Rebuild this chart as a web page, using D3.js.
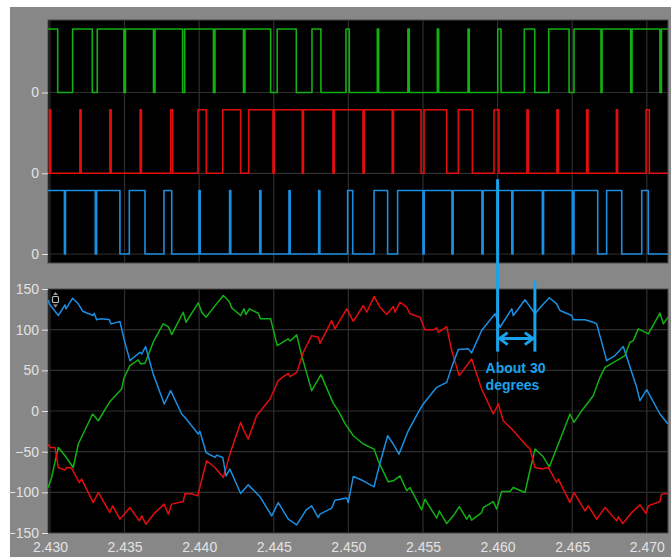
<!DOCTYPE html>
<html><head><meta charset="utf-8">
<script src="https://cdn.jsdelivr.net/npm/d3@7"></script>
<style>
html,body{margin:0;padding:0;background:#fff;}
svg{display:block;}
</style></head><body>
<svg id="c" width="671" height="557"></svg>
<script>
// time axis ticks (s) and current axis ticks (A)
const timeTicks = [2.430, 2.435, 2.440, 2.445, 2.450, 2.455, 2.460, 2.465, 2.470];
const currentTicks = [150, 100, 50, 0, -50, -100, -150];
const laneTickLabels = ["0", "0", "0"];
const timeDomain = [2.42987, 2.47142];

// gate signals: intervals [on, off] where the switch is high
const gateA = [[2.4298,2.43052],[2.43152,2.43284],[2.43317,2.43496],[2.43506,2.43694],[2.43704,2.43889],[2.43903,2.44096],[2.44106,2.44297],[2.44307,2.44479],[2.44523,2.44651],[2.44756,2.44816],[2.44984,2.45006],[2.45194,2.45203],[2.45399,2.45408],[2.45596,2.45605],[2.45802,2.45810],[2.46001,2.46023],[2.46179,2.46249],[2.46343,2.46479],[2.46512,2.46693],[2.46700,2.46892],[2.46901,2.47088],[2.47098,2.4716]];
const gateB = [[2.42997,2.43005],[2.43201,2.43209],[2.43402,2.43410],[2.43605,2.43613],[2.43809,2.43822],[2.43992,2.44048],[2.44158,2.44278],[2.44332,2.44495],[2.44503,2.44691],[2.44699,2.44897],[2.44905,2.45098],[2.45106,2.45294],[2.45302,2.45487],[2.45507,2.45659],[2.45737,2.45831],[2.45976,2.46009],[2.46197,2.46206],[2.46398,2.46407],[2.46597,2.46606],[2.46796,2.46804],[2.46995,2.47017]];
const gateC = [[2.4298,2.43097],[2.43104,2.43304],[2.43313,2.43469],[2.43532,2.43637],[2.43764,2.43816],[2.43999,2.44007],[2.44204,2.44212],[2.44406,2.44414],[2.44602,2.44610],[2.44801,2.44809],[2.44995,2.45029],[2.45172,2.45263],[2.45330,2.45500],[2.45508,2.45694],[2.45702,2.45895],[2.45903,2.46095],[2.46103,2.46300],[2.46308,2.46501],[2.46512,2.46671],[2.46731,2.46832],[2.46966,2.47010]];

// phase currents [t, A]
const currentA = [[2.42989,-94.1],[2.43011,-81.8],[2.43056,-44.8],[2.43101,-55],[2.43156,-69.5],[2.43190,-40.6],[2.43286,-3.7],[2.43324,-12],[2.43402,11.8],[2.43481,27.1],[2.43496,40.6],[2.43536,55.8],[2.43592,62.8],[2.43608,57.9],[2.43637,58.6],[2.43697,86.6],[2.43759,107.1],[2.43793,103.8],[2.43816,94],[2.43893,121.4],[2.43912,109.1],[2.43994,133],[2.44017,121.4],[2.44046,115.3],[2.44095,126.8],[2.44162,142],[2.44202,134.6],[2.44218,126.8],[2.44278,117.4],[2.44300,125.6],[2.44314,118.6],[2.44336,125.6],[2.44396,120.2],[2.44412,113.3],[2.44479,113.3],[2.44523,80.4],[2.44597,88.7],[2.44610,86],[2.44654,93.6],[2.44687,68.1],[2.44754,25],[2.44816,44.7],[2.44899,9.4],[2.44932,0.4],[2.44977,-15.3],[2.45033,-30.4],[2.45100,-40.6],[2.45172,-46.8],[2.45200,-61.2],[2.45267,-87.1],[2.45301,-85.8],[2.45346,-79.7],[2.45391,-98.1],[2.45413,-94.1],[2.45491,-121.5],[2.45513,-108.4],[2.45592,-131.8],[2.45609,-122.8],[2.45659,-138.4],[2.45703,-128.9],[2.45743,-117.5],[2.45793,-133],[2.45811,-127.7],[2.45826,-134.2],[2.45893,-124.9],[2.45904,-118.7],[2.45971,-111.3],[2.45994,-120.7],[2.46027,-99],[2.46083,-99],[2.46105,-94.1],[2.46184,-100.2],[2.46206,-81.8],[2.46251,-46.8],[2.46306,-56.3],[2.46347,-68.6],[2.46407,-40.6],[2.46485,-3.7],[2.46512,-14],[2.46564,0.4],[2.46641,18.8],[2.46686,41.4],[2.46720,53.7],[2.46798,61.9],[2.46854,68.1],[2.46887,84.5],[2.46910,86.6],[2.46943,101],[2.47010,94.8],[2.47088,120.2],[2.47111,107.1],[2.47142,115.3]];
const currentB = [[2.42989,-40.6],[2.43000,-44.8],[2.43034,-44.8],[2.43056,-69.5],[2.43101,-72.7],[2.43112,-69.5],[2.43145,-70.2],[2.43196,-87.9],[2.43212,-83.7],[2.43290,-112.6],[2.43324,-100.2],[2.43402,-124.9],[2.43420,-116.6],[2.43469,-133],[2.43536,-118.7],[2.43599,-135.1],[2.43615,-128.9],[2.43643,-139.2],[2.43704,-124.9],[2.43766,-114.5],[2.43793,-126.8],[2.43816,-114.5],[2.43893,-111.3],[2.43905,-101.5],[2.43958,-102.2],[2.43990,-104.3],[2.44050,-61.2],[2.44106,-69.5],[2.44162,-81.8],[2.44206,-53],[2.44278,-14],[2.44300,-24.3],[2.44329,-34.5],[2.44385,-5.8],[2.44475,14.8],[2.44530,37.3],[2.44564,42.2],[2.44597,46.3],[2.44609,42.2],[2.44654,47.5],[2.44698,72.2],[2.44754,92.7],[2.44798,90.6],[2.44810,83.2],[2.44888,111.2],[2.44910,101],[2.44989,125.6],[2.45033,110.3],[2.45100,129.7],[2.45123,121.4],[2.45172,140.8],[2.45212,127.6],[2.45257,118.6],[2.45301,128.4],[2.45312,121.4],[2.45346,133.7],[2.45391,127.6],[2.45413,119.5],[2.45480,115.3],[2.45513,99.8],[2.45569,99.8],[2.45592,102.2],[2.45603,96.8],[2.45659,103.8],[2.45692,74.3],[2.45743,43.5],[2.45826,64],[2.45893,27.1],[2.45971,-3.7],[2.46005,8.6],[2.46038,-12],[2.46095,-22.2],[2.46184,-40.6],[2.46217,-46.8],[2.46251,-69.5],[2.46296,-71.4],[2.46340,-69.5],[2.46396,-87.9],[2.46407,-83.7],[2.46485,-112.6],[2.46512,-100.2],[2.46586,-122.8],[2.46608,-116.6],[2.46664,-133],[2.46720,-118.7],[2.46798,-135.1],[2.46809,-130],[2.46839,-138.4],[2.46899,-124.9],[2.46954,-115.4],[2.46995,-126.1],[2.47010,-116.6],[2.47088,-111.3],[2.47099,-102.2],[2.47142,-101.5]];
const currentC = [[2.42989,136.7],[2.42995,131.8],[2.43056,117.4],[2.43101,130.5],[2.43107,125.6],[2.43152,138.7],[2.43190,131.8],[2.43219,122.7],[2.43290,117.4],[2.43297,120.2],[2.43313,112.1],[2.43335,113.3],[2.43397,112.4],[2.43409,107.1],[2.43469,110],[2.43496,88.7],[2.43536,61.9],[2.43603,72.2],[2.43615,70],[2.43641,79.2],[2.43692,45.6],[2.43766,8.6],[2.43809,25],[2.43883,-3.7],[2.43905,-7.9],[2.43994,-28.3],[2.44005,-25],[2.44046,-51],[2.44106,-57.1],[2.44117,-54.2],[2.44158,-57.1],[2.44180,-79.7],[2.44206,-71.4],[2.44278,-101.5],[2.44329,-90.8],[2.44408,-105.5],[2.44486,-128.9],[2.44530,-112.6],[2.44597,-133],[2.44654,-140],[2.44716,-121.9],[2.44754,-116.6],[2.44798,-131],[2.44810,-126.8],[2.44888,-119.5],[2.44910,-109.6],[2.44989,-107.1],[2.44999,-112.6],[2.45033,-80.5],[2.45100,-85.8],[2.45172,-93.2],[2.45207,-67.4],[2.45263,-30.4],[2.45301,-40.6],[2.45339,-53],[2.45401,-24.3],[2.45475,0.4],[2.45502,8.6],[2.45592,29.1],[2.45659,35.2],[2.45696,55.8],[2.45737,75.5],[2.45804,76.4],[2.45826,71.4],[2.45893,98.9],[2.45983,119.5],[2.46016,103],[2.46095,125.6],[2.46105,117.4],[2.46184,136.7],[2.46251,119.5],[2.46291,128.4],[2.46347,139.2],[2.46396,131.8],[2.46418,123.6],[2.46497,117.4],[2.46507,112.1],[2.46586,112.1],[2.46641,109.1],[2.46664,107.1],[2.46731,61.9],[2.46787,68.1],[2.46842,79.2],[2.46932,29.1],[2.46954,12.7],[2.46999,26.2],[2.47088,-3.7],[2.47142,-16]];

// phase-shift marker: two cursors and the span between them
const markerTimes = [2.4600, 2.4625];
const markerTops = [285, 160];
const markerBottom = 73;
const markerArrowLevel = 89;
const markerText = ["About 30", "degrees"];

const colors = {green: "#12b012", red: "#e40d0d", blue: "#1a8fe2", note: "#1aa3ea"};

const svg = d3.select("#c");
const W = 671, H = 557;
const plotL = 48, plotR = 668;
const top1 = 20, bot1 = 263, top2 = 289, bot2 = 533;

svg.append("rect").attr("x", 10).attr("y", 7).attr("width", W - 10).attr("height", H - 7).attr("fill", "#878787");

const x = d3.scaleLinear().domain(timeDomain).range([plotL, plotR]);
const yI = d3.scaleLinear().domain([-150, 150]).range([bot2, top2]);
const laneZero = [92.5, 173.3, 254];
const laneY = laneZero.map(z => d3.scaleLinear().domain([0, 1]).range([z, z - 63.5]));

const defs = svg.append("defs");
defs.append("clipPath").attr("id", "clip1").append("rect")
  .attr("x", plotL).attr("y", top1).attr("width", plotR - plotL).attr("height", bot1 - top1);
defs.append("clipPath").attr("id", "clip2").append("rect")
  .attr("x", plotL).attr("y", top2).attr("width", plotR - plotL).attr("height", bot2 - top2);

// panel backgrounds
[[top1, bot1], [top2, bot2]].forEach(([t, b]) => {
  svg.append("rect").attr("x", plotL).attr("y", t).attr("width", plotR - plotL).attr("height", b - t)
    .attr("fill", "#000").attr("stroke", "#4a4a4a").attr("stroke-width", 1);
});

const gridColor = "#2f2f2f";
// vertical grid
[[top1, bot1], [top2, bot2]].forEach(([t, b]) => {
  svg.append("g").selectAll("line").data(timeTicks).join("line")
    .attr("x1", d => x(d)).attr("x2", d => x(d)).attr("y1", t).attr("y2", b)
    .attr("stroke", gridColor).attr("stroke-width", 1.2);
});
// horizontal grid
svg.append("g").selectAll("line").data(laneZero).join("line")
  .attr("x1", plotL).attr("x2", plotR).attr("y1", d => d).attr("y2", d => d)
  .attr("stroke", gridColor).attr("stroke-width", 1.2);
svg.append("g").selectAll("line").data(currentTicks.filter(v => Math.abs(v) < 150)).join("line")
  .attr("x1", plotL).attr("x2", plotR).attr("y1", d => yI(d)).attr("y2", d => yI(d))
  .attr("stroke", gridColor).attr("stroke-width", 1.2);

// gate traces
function gateSteps(intervals) {
  const pts = [[timeDomain[0], 0]];
  intervals.forEach(([a, b]) => { pts.push([a, 0], [a, 1], [b, 1], [b, 0]); });
  pts.push([timeDomain[1] + 0.001, 0]);
  return pts;
}
const g1 = svg.append("g").attr("clip-path", "url(#clip1)");
[[gateA, colors.green], [gateB, colors.red], [gateC, colors.blue]].forEach(([iv, c], i) => {
  const line = d3.line().x(d => x(d[0])).y(d => laneY[i](d[1]));
  g1.append("path").attr("d", line(gateSteps(iv))).attr("fill", "none")
    .attr("stroke", c).attr("stroke-width", 1.6).attr("stroke-linejoin", "round");
});

// current traces
const g2 = svg.append("g").attr("clip-path", "url(#clip2)");
const cLine = d3.line().x(d => x(d[0])).y(d => yI(d[1]));
[[currentA, colors.green], [currentB, colors.red], [currentC, colors.blue]].forEach(([data, c]) => {
  g2.append("path").attr("d", cLine(data)).attr("fill", "none")
    .attr("stroke", c).attr("stroke-width", 1.5).attr("stroke-linejoin", "round");
});

// axes
const font = "'Liberation Sans', Arial, sans-serif";
const tickColor = "#e2e2e2";
const yAxis = d3.axisLeft(yI).tickValues(currentTicks).tickSize(6).tickPadding(3);
const ya = svg.append("g").attr("transform", `translate(${plotL},0)`).call(yAxis);
const xAxis = d3.axisBottom(x).tickValues(timeTicks).tickFormat(d3.format(".3f")).tickSize(0).tickPadding(9);
const xa = svg.append("g").attr("transform", `translate(0,${bot2})`).call(xAxis);
laneY.forEach((s, i) => {
  const ax = d3.axisLeft(s).tickValues([0]).tickFormat(() => laneTickLabels[i]).tickSize(6).tickPadding(3);
  svg.append("g").attr("class", "lane").attr("transform", `translate(${plotL},0)`).call(ax);
});
svg.selectAll(".domain").remove();
svg.selectAll(".tick line").attr("stroke", tickColor).attr("stroke-width", 1);
svg.selectAll(".tick text").attr("fill", tickColor).attr("font-family", font).attr("font-size", 14);

// zoom icon in the current panel
const icon = svg.append("g").attr("fill", "none").attr("stroke", "#bdbdbd").attr("stroke-width", 1.2);
icon.append("rect").attr("x", 52.5).attr("y", 296.5).attr("width", 6).attr("height", 6).attr("rx", 1);
svg.append("path").attr("d", "M53,295 L55.5,292 L58,295 Z M53,304.5 L55.5,307.5 L58,304.5 Z").attr("fill", "#9a9a9a");

// phase-shift marker
const note = svg.append("g");
markerTimes.forEach((t, i) => {
  note.append("line").attr("x1", x(t)).attr("x2", x(t)).attr("y1", yI(markerTops[i])).attr("y2", yI(markerBottom))
    .attr("stroke", colors.note).attr("stroke-width", 3);
});
const ay = yI(markerArrowLevel);
const xa0 = x(markerTimes[0]) + 2, xa1 = x(markerTimes[1]) - 2;
note.append("path")
  .attr("d", `M${xa0},${ay} L${xa1},${ay} M${xa0 + 8},${ay - 6} L${xa0},${ay} L${xa0 + 8},${ay + 6} M${xa1 - 8},${ay - 6} L${xa1},${ay} L${xa1 - 8},${ay + 6}`)
  .attr("fill", "none").attr("stroke", colors.note).attr("stroke-width", 3).attr("stroke-linejoin", "miter");
note.selectAll("text").data(markerText).join("text")
  .attr("x", x(markerTimes[0]) - 12).attr("y", (d, i) => yI(markerBottom) + 21 + i * 17)
  .attr("fill", colors.note).attr("font-family", font).attr("font-weight", "bold").attr("font-size", 14)
  .text(d => d);
</script>
</body></html>
